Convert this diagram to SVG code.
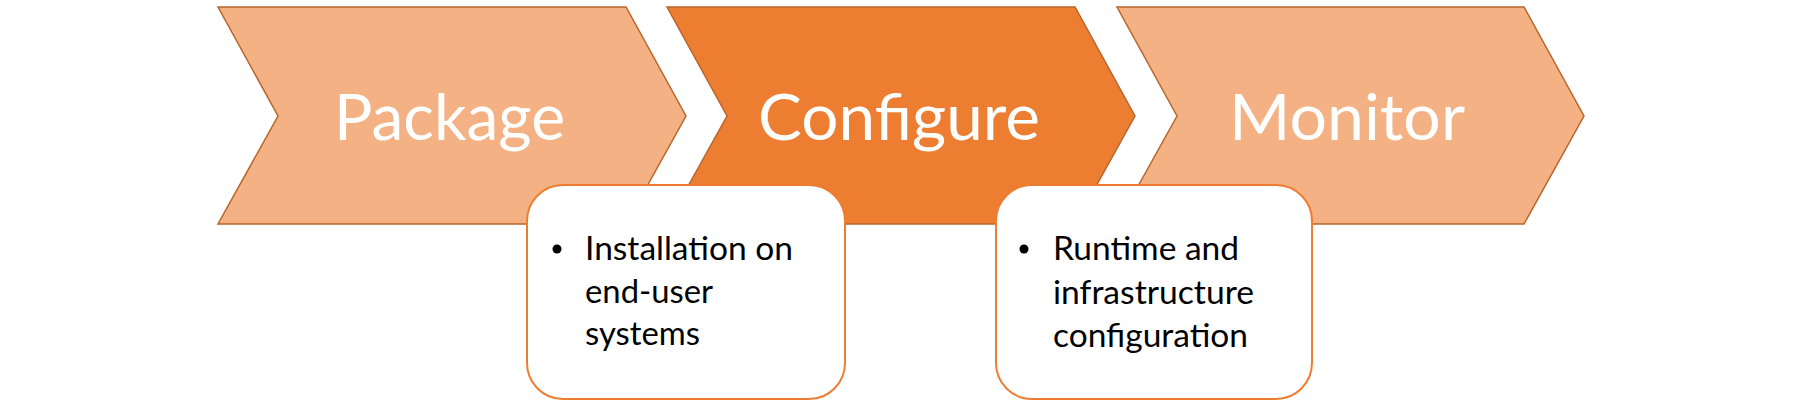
<svg xmlns="http://www.w3.org/2000/svg" width="1800" height="406" viewBox="0 0 1800 406">
<style>
.chev{stroke:#B8652B;stroke-width:1.5;stroke-linejoin:miter}
.light{fill:#F4B183}
.dark{fill:#ED7D31}
.title{font-family:Lato,"Open Sans","Liberation Sans",sans-serif;font-size:64px;fill:#FFFFFF}
.box{fill:#FFFFFF;stroke:#ED7D31;stroke-width:2}
.body{font-family:Lato,"Open Sans","Liberation Sans",sans-serif;font-size:32px;fill:#000000}
</style>
<rect width="1800" height="406" fill="#FFFFFF"/>
<g id="package">
<polygon class="chev light" points="218,7 626,7 686,116 626,224 218,224 278,116"/>
<text class="title" x="334" y="140" textLength="231" lengthAdjust="spacingAndGlyphs">Package</text>
</g>
<g id="configure">
<polygon class="chev dark" points="667,7 1075,7 1135,116 1075,224 667,224 727,116"/>
<text class="title" x="758" y="140" textLength="282" lengthAdjust="spacingAndGlyphs">Configure</text>
</g>
<g id="monitor">
<polygon class="chev light" points="1117,7 1524,7 1584,116 1524,224 1117,224 1177,116"/>
<text class="title" x="1229" y="140" textLength="236" lengthAdjust="spacingAndGlyphs">Monitor</text>
</g>
<g id="connectors"></g>
<g id="note-package">
<rect class="box" x="527" y="185" width="318" height="214" rx="36" ry="36"/>
<circle cx="557" cy="249" r="4.5" fill="#000000"/>
<text class="body" x="585" y="260" textLength="208" lengthAdjust="spacingAndGlyphs">Installation on</text>
<text class="body" x="585" y="303" textLength="128" lengthAdjust="spacingAndGlyphs">end-user</text>
<text class="body" x="585" y="345" textLength="115" lengthAdjust="spacingAndGlyphs">systems</text>
</g>
<g id="note-configure">
<rect class="box" x="996" y="185" width="316" height="214" rx="36" ry="36"/>
<circle cx="1024" cy="249" r="4.5" fill="#000000"/>
<text class="body" x="1053" y="260" textLength="186" lengthAdjust="spacingAndGlyphs">Runtime and</text>
<text class="body" x="1053" y="304" textLength="201" lengthAdjust="spacingAndGlyphs">infrastructure</text>
<text class="body" x="1053" y="347" textLength="195" lengthAdjust="spacingAndGlyphs">configuration</text>
</g>
</svg>
